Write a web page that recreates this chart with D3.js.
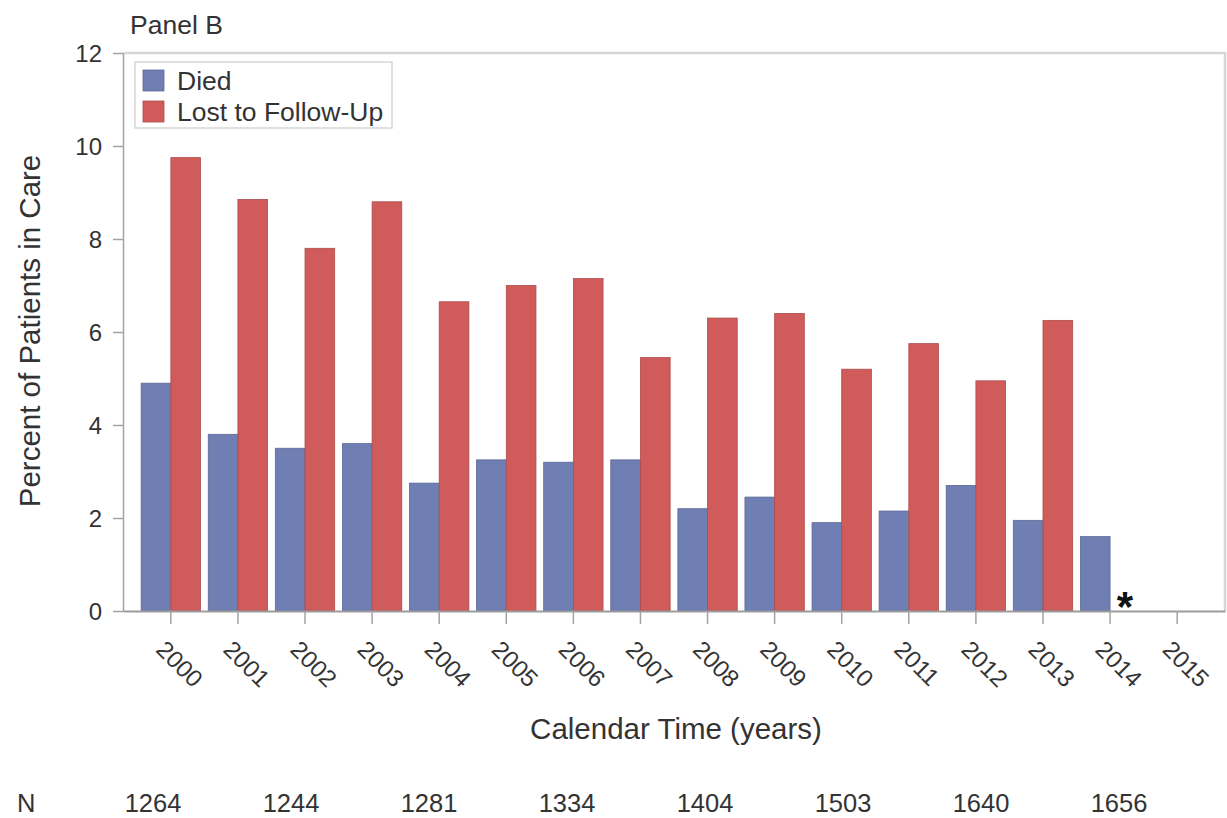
<!DOCTYPE html>
<html>
<head>
<meta charset="utf-8">
<script src="https://cdn.jsdelivr.net/npm/d3@7"></script>
<style>
  body { margin: 0; background: #fff; }
  svg { display: block; }
  text { font-family: "Liberation Sans", Arial, Helvetica, sans-serif; fill: #333; }
</style>
</head>
<body>
<svg id="chart" width="1227" height="818"></svg>
<script>
// Calendar years on the x axis
const years = ["2000","2001","2002","2003","2004","2005","2006","2007",
               "2008","2009","2010","2011","2012","2013","2014","2015"];
// Percent of patients in care who died, per year
const died = [4.9, 3.8, 3.5, 3.6, 2.75, 3.25, 3.2, 3.25, 2.2, 2.45, 1.9, 2.15, 2.7, 1.95, 1.6, null];
// Percent of patients in care lost to follow-up, per year
const lost = [9.75, 8.85, 7.8, 8.8, 6.65, 7.0, 7.15, 5.45, 6.3, 6.4, 5.2, 5.75, 4.95, 6.25, null, null];
const seriesNames = ["Died", "Lost to Follow-Up"];
const seriesColors = ["#6F7EB3", "#D05B5B"];
const yTicks = [0, 2, 4, 6, 8, 10, 12];
// Patients at risk shown beneath the axis
const nCounts = ["1264", "1244", "1281", "1334", "1404", "1503", "1640", "1656"];
// Cells not reported (flagged with an asterisk)
const flagged = [{ year: "2014", series: "Lost to Follow-Up" }];

const svg = d3.select("#chart");
const plot = { left: 123, right: 1225, top: 53, bottom: 611 };

const x = d3.scaleBand().domain(years).range([plot.left, plot.right])
  .paddingInner(0).paddingOuter(0.213);
const x1 = d3.scaleBand().domain(seriesNames).range([0, x.bandwidth()])
  .paddingInner(0).paddingOuter(0.13);
const y = d3.scaleLinear().domain([0, 12]).range([plot.bottom, plot.top]);
const color = d3.scaleOrdinal().domain(seriesNames).range(seriesColors);

// Wall border (top and right)
svg.append("path")
  .attr("d", `M${plot.left},${plot.top}H${plot.right}V${plot.bottom}`)
  .attr("fill", "none").attr("stroke", "#d6d6d6").attr("stroke-width", 2.5);

// Bars
const rows = years.map((yr, i) => ({ year: yr, values: [died[i], lost[i]] }));
const groups = svg.append("g").selectAll("g").data(rows).join("g")
  .attr("transform", d => `translate(${x(d.year)},0)`);
groups.selectAll("rect")
  .data(d => d.values.map((v, k) => ({ series: seriesNames[k], value: v })).filter(e => e.value != null))
  .join("rect")
  .attr("x", d => x1(d.series))
  .attr("width", x1.bandwidth())
  .attr("y", d => y(d.value))
  .attr("height", d => y(0) - y(d.value))
  .attr("fill", d => color(d.series))
  .attr("stroke", d => d3.color(color(d.series)).darker(0.5))
  .attr("stroke-width", 0.8);

// Asterisk for unreported values
svg.append("g").selectAll("text").data(flagged).join("text")
  .attr("x", d => x(d.year) + x1(d.series) + x1.bandwidth() / 2)
  .attr("y", y(0) + 10)
  .attr("text-anchor", "middle")
  .style("font-size", "42px").style("font-weight", "bold").style("fill", "#111")
  .text("*");

// Y axis
const yAxis = svg.append("g").attr("transform", `translate(${plot.left},0)`)
  .call(d3.axisLeft(y).tickValues(yTicks).tickSize(10).tickPadding(11).tickSizeOuter(0));
yAxis.select(".domain").attr("stroke", "#a3a3a3").attr("stroke-width", 1.5);
yAxis.selectAll(".tick line").attr("stroke", "#a3a3a3").attr("stroke-width", 1.5);
yAxis.selectAll(".tick text").style("font-size", "24px").attr("fill", "#333").attr("dy", "0.34em");

// X axis
const xAxis = svg.append("g").attr("transform", `translate(0,${plot.bottom})`)
  .call(d3.axisBottom(x).tickSize(13).tickSizeOuter(0));
xAxis.select(".domain").attr("stroke", "#9c9c9c").attr("stroke-width", 2);
xAxis.selectAll(".tick line").attr("stroke", "#a3a3a3").attr("stroke-width", 1.5);
xAxis.selectAll(".tick text")
  .style("font-size", "24px").attr("fill", "#333")
  .attr("x", 0).attr("y", 0).attr("dy", 0)
  .attr("text-anchor", "start")
  .attr("transform", "translate(-16,40) rotate(45)");

// Axis titles
svg.append("text")
  .attr("transform", `translate(40,${(plot.top + plot.bottom) / 2 - 1}) rotate(-90)`)
  .attr("text-anchor", "middle")
  .style("font-size", "29.5px")
  .text("Percent of Patients in Care");
svg.append("text")
  .attr("x", (plot.left + plot.right) / 2 + 2).attr("y", 739)
  .attr("text-anchor", "middle")
  .style("font-size", "29.5px")
  .text("Calendar Time (years)");

// Panel label
svg.append("text").attr("x", 130).attr("y", 34)
  .style("font-size", "26.5px").text("Panel B");

// Legend
const legend = svg.append("g").attr("transform", "translate(135,62)");
legend.append("rect").attr("width", 257).attr("height", 66)
  .attr("fill", "#fff").attr("stroke", "#d6d6d6").attr("stroke-width", 1.5);
const li = legend.selectAll("g").data(seriesNames).join("g")
  .attr("transform", (d, i) => `translate(8,${8 + i * 31})`);
li.append("rect").attr("width", 21).attr("height", 21)
  .attr("fill", d => color(d)).attr("stroke", d => d3.color(color(d)).darker(0.5)).attr("stroke-width", 0.8);
li.append("text").attr("x", 34).attr("y", 20)
  .style("font-size", "26.5px").text(d => d);

// Patients at risk row
const nScale = d3.scalePoint().domain(nCounts.map((d, i) => i)).range([153, 1119]);
svg.append("text").attr("x", 17).attr("y", 812).style("font-size", "25.5px").text("N");
svg.append("g").selectAll("text").data(nCounts).join("text")
  .attr("x", (d, i) => nScale(i)).attr("y", 812)
  .attr("text-anchor", "middle")
  .style("font-size", "25.5px")
  .text(d => d);
</script>
</body>
</html>
